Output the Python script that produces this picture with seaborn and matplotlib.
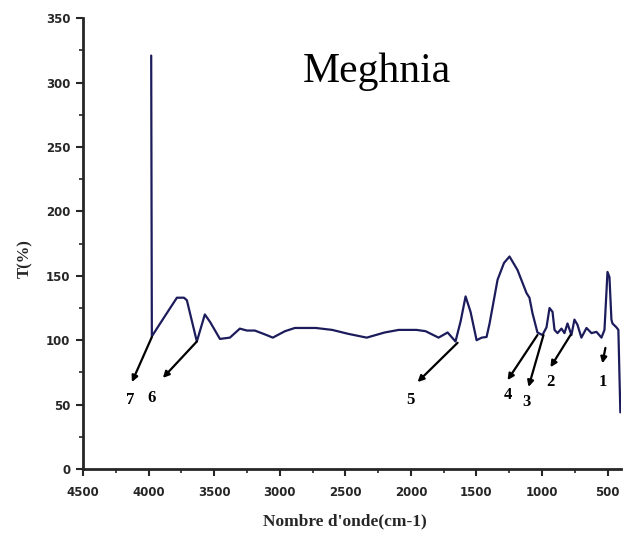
import matplotlib
matplotlib.use("Agg")
import matplotlib.pyplot as plt
import seaborn as sns
import pandas as pd
from matplotlib.ticker import MultipleLocator

wavenumber = [3980, 3975, 3880, 3784, 3730, 3708, 3632, 3571, 3530, 3456, 3380,
              3304, 3250, 3190, 3100, 3053, 2960, 2885, 2725, 2600, 2480, 2337,
              2200, 2093, 1957, 1888, 1789, 1720, 1660, 1620, 1583, 1545, 1499,
              1460, 1423, 1400, 1339, 1290, 1248, 1187, 1118, 1096, 1073, 1035,
              997, 966, 943, 920, 905, 882, 852, 829, 806, 776, 753, 730, 700,
              661, 623, 585, 547, 524, 501, 486, 471, 463, 433, 418, 403]
transmittance = [321, 103, 118, 133, 133, 131, 99, 120, 114, 101, 102,
                 109, 107.5, 107.5, 104, 102, 107, 109.5, 109.5, 108, 105, 102,
                 106, 108, 108, 107, 102, 106, 99, 115, 134, 122, 100,
                 102, 102.5, 113, 147, 160, 165, 154.5, 136.5, 133, 121, 106,
                 104, 110, 125, 122, 108, 105.5, 109, 105.5, 113, 104, 116, 112, 102,
                 109.5, 105.5, 106.5, 102, 108, 153, 149, 116, 113, 110, 108, 44]

band_labels = ["1", "2", "3", "4", "5", "6", "7"]
band_tail_x = [517, 783, 989, 1035, 1644, 3632, 3975]
band_tail_y = [94, 104, 104, 104, 98, 99, 102.5]
band_head_x = [540, 936, 1103, 1263, 1949, 3891, 4127]
band_head_y = [82, 79, 63.7, 69, 67.5, 70.7, 67.5]
band_text_x = [540, 936, 1118, 1263, 2002, 3975, 4142]
band_text_y = [67.5, 67.5, 52, 57.5, 53.6, 55, 53.6]

x_ticks = [4500, 4000, 3500, 3000, 2500, 2000, 1500, 1000, 500]
y_ticks = [0, 50, 100, 150, 200, 250, 300, 350]

df = pd.DataFrame({"wn": wavenumber, "T": transmittance})

sns.set_style("ticks")
plt.rcParams["font.family"] = ["DejaVu Sans"]

fig = plt.figure(figsize=(6.36, 5.36), dpi=100)
ax = fig.add_axes([0.1305, 0.125, 0.976 - 0.1305, 0.966 - 0.125])

sns.lineplot(data=df, x="wn", y="T", sort=False, ax=ax, color="#1c1c5c",
             linewidth=1.6, estimator=None)

ax.set_xlim(4500, 400)
ax.set_ylim(0, 350)
ax.set_xticks(x_ticks)
ax.set_yticks(y_ticks)
ax.xaxis.set_minor_locator(MultipleLocator(250))
ax.yaxis.set_minor_locator(MultipleLocator(25))
ax.tick_params(which="major", length=5, width=1.5, direction="out", pad=4)
ax.tick_params(axis="x", which="major", pad=7)
ax.tick_params(which="minor", length=3, width=1.2, direction="out")
for lab in ax.get_xticklabels() + ax.get_yticklabels():
    lab.set_fontweight("bold")
    lab.set_fontsize(8.5)
for s in ["left", "bottom"]:
    ax.spines[s].set_linewidth(2)
sns.despine(ax=ax)

ax.set_xlabel("Nombre d'onde(cm-1)", family="Liberation Serif", fontweight="bold",
              fontsize=12.5)
ax.xaxis.set_label_coords((345 - 83) / 538, -(513 - 469) / 451)
ax.set_ylabel("T(%)", family="Liberation Serif", fontweight="bold", fontsize=12)
ax.yaxis.set_label_coords(-(83 - 33) / 538, (469 - 258) / 451)

for lab, tx, ty, hx, hy, lx, ly in zip(band_labels, band_tail_x, band_tail_y,
                                        band_head_x, band_head_y, band_text_x, band_text_y):
    ax.annotate("", xy=(hx, hy), xytext=(tx, ty),
                arrowprops=dict(arrowstyle="-|>", color="black", lw=1.6,
                                mutation_scale=9, shrinkA=0, shrinkB=0))
    ax.text(lx, ly, lab, ha="center", va="center", family="Liberation Serif",
            fontweight="bold", fontsize=12, color="black")

ax.text(2824, 300.5, "Meghnia", ha="left", va="baseline", family="Liberation Serif",
        fontsize=30, color="black")

fig.savefig("out.png", dpi=100)
